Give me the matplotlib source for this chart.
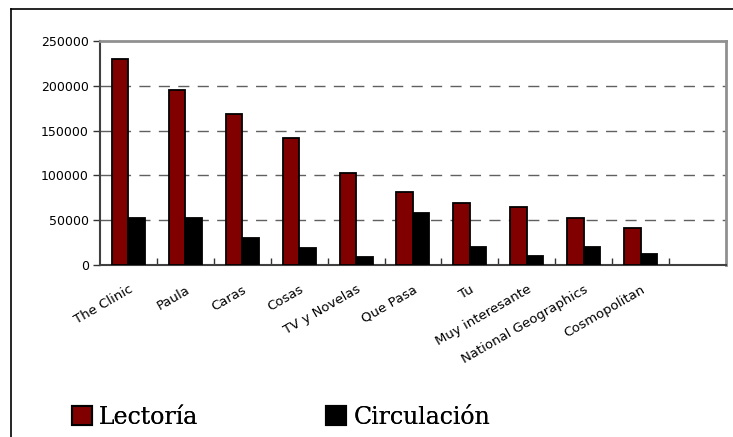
import matplotlib
matplotlib.use('Agg')
import matplotlib.pyplot as plt
from matplotlib.lines import Line2D
from matplotlib.patches import Patch
import numpy as np

# data
revistas = ['The Clinic', 'Paula', 'Caras', 'Cosas', 'TV y Novelas',
            'Que Pasa', 'Tu', 'Muy interesante', 'National Geographics',
            'Cosmopolitan']
lectoria = [230000, 195000, 169000, 142000, 103000, 81000, 69500, 65000,
            52500, 41500]
circulacion = [52000, 52000, 30000, 19500, 8500, 57500, 20500, 9500,
               20000, 12000]
yticks = [0, 50000, 100000, 150000, 200000, 250000]

fig = plt.figure(figsize=(7.33, 4.37), dpi=100)
ax = fig.add_axes([0.1364, 0.3936, 0.8540, 0.5126])

x = np.arange(len(revistas))
w = 0.29
ax.bar(x - w / 2, lectoria, w, color='#800000', edgecolor='black',
       linewidth=1.3, zorder=3)
ax.bar(x + w / 2, circulacion, w, color='black', edgecolor='black',
       linewidth=1.3, zorder=3)

# 11 slots, the last one empty as in the original
ax.set_xlim(-0.5, 10.5)
ax.set_ylim(0, 250000)
ax.set_yticks(yticks)
ax.set_yticklabels([str(v) for v in yticks], fontsize=9)
ax.tick_params(axis='y', direction='out', length=5, width=1,
               color='#333333', pad=3)

ax.set_xticks(x)
ax.set_xticklabels(revistas, rotation=30, ha='right', va='top',
                   fontsize=9.5, rotation_mode='anchor')
ax.tick_params(axis='x', length=0, pad=13)
ax.set_xticks(np.arange(0.5, 10.5, 1), minor=True)
ax.tick_params(axis='x', which='minor', direction='in', length=5,
               width=1, color='#333333')

for v in yticks[1:-1]:
    ax.axhline(v, color='#606060', linestyle=(0, (8, 6)), linewidth=1,
               zorder=1)

for s in ['top', 'right']:
    ax.spines[s].set_color('#909090')
    ax.spines[s].set_linewidth(2)
for s in ['left', 'bottom']:
    ax.spines[s].set_color('#404040')
    ax.spines[s].set_linewidth(1.5)

# outer frame (clipped at the right and bottom)
fig.add_artist(Line2D([11 / 733, 1], [1 - 9 / 437, 1 - 9 / 437],
                      color='black', linewidth=1.2))
fig.add_artist(Line2D([11 / 733, 11 / 733], [0, 1 - 9 / 437],
                      color='black', linewidth=1.2))

leg_font = {'family': 'DejaVu Serif', 'size': 17}
for label, col, xpos in [('Lectoría', '#800000', 72 / 733),
                         ('Circulación', 'black', 326 / 733)]:
    h = Patch(facecolor=col, edgecolor='black', linewidth=1.5)
    lg = fig.legend([h], [label], loc='center left',
                    bbox_to_anchor=(xpos, 1 - 417 / 437), frameon=False,
                    prop=leg_font, handlelength=0.85, handleheight=0.85,
                    handletextpad=0.3, borderpad=0, borderaxespad=0)
    fig.add_artist(lg)

fig.savefig('out.png', dpi=100)
